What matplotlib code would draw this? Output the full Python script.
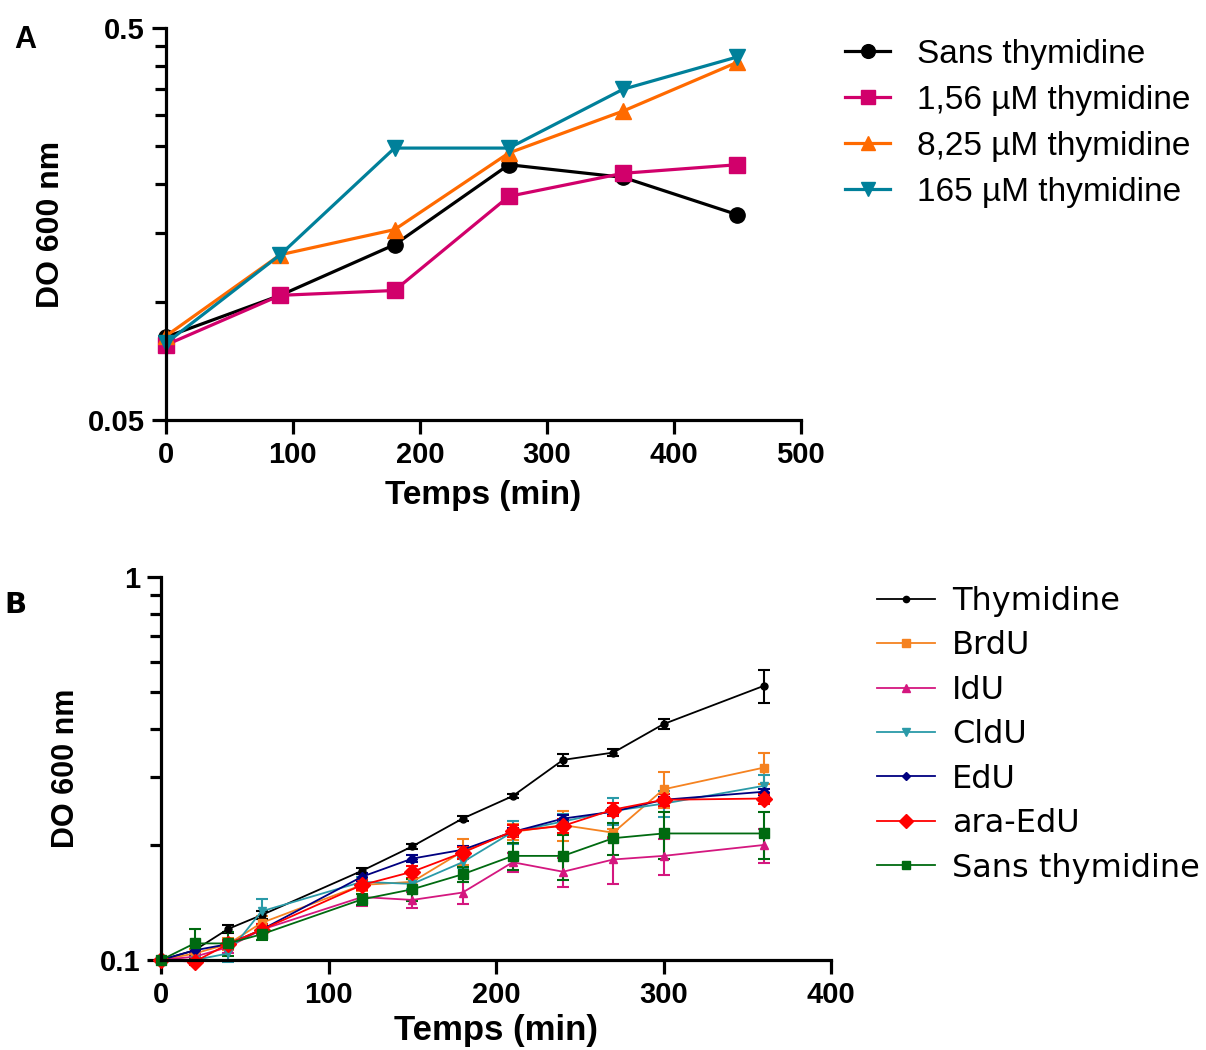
import matplotlib
matplotlib.use("Agg")
import matplotlib.pyplot as plt
from matplotlib.ticker import FixedLocator, NullFormatter, FixedFormatter

# ---- panel A data ----
time_a = [0, 90, 180, 270, 360, 450]
sans_a = [0.0814, 0.104, 0.140, 0.224, 0.208, 0.167]
thy156 = [0.0777, 0.104, 0.107, 0.186, 0.213, 0.224]
thy825 = [0.0819, 0.132, 0.153, 0.240, 0.307, 0.409]
thy165 = [0.0785, 0.132, 0.247, 0.247, 0.349, 0.422]
labels_a = ["Sans thymidine", "1,56 µM thymidine", "8,25 µM thymidine", "165 µM thymidine"]

# ---- panel B data ----
time_b = [0, 20, 40, 60, 120, 150, 180, 210, 240, 270, 300, 360]
thymidine = [0.100, 0.106, 0.1205, 0.131, 0.171, 0.198, 0.234, 0.268, 0.333, 0.348, 0.413, 0.520]
thymidine_err = [0, 0.003, 0.003, 0.003, 0.003, 0.003, 0.003, 0.003, 0.012, 0.008, 0.012, 0.05]
brdu = [0.100, 0.104, 0.110, 0.125, 0.157, 0.160, 0.192, 0.216, 0.225, 0.215, 0.279, 0.318]
brdu_err = [0, 0.003, 0.004, 0.005, 0.006, 0.008, 0.015, 0.010, 0.020, 0.005, 0.030, 0.030]
idu = [0.100, 0.102, 0.108, 0.120, 0.146, 0.1435, 0.150, 0.180, 0.170, 0.183, 0.187, 0.1997]
idu_err = [0, 0.002, 0.004, 0.004, 0.008, 0.007, 0.010, 0.010, 0.015, 0.025, 0.020, 0.020]
cldu = [0.100, 0.100, 0.104, 0.134, 0.160, 0.158, 0.180, 0.216, 0.230, 0.245, 0.256, 0.285]
cldu_err = [0, 0.002, 0.005, 0.010, 0.005, 0.005, 0.006, 0.015, 0.010, 0.020, 0.020, 0.020]
edu = [0.100, 0.106, 0.110, 0.120, 0.165, 0.184, 0.194, 0.216, 0.234, 0.244, 0.262, 0.275]
edu_err = [0, 0.003, 0.003, 0.003, 0.004, 0.004, 0.005, 0.005, 0.005, 0.005, 0.005, 0.005]
araedu = [0.100, 0.099, 0.110, 0.120, 0.157, 0.170, 0.1906, 0.217, 0.224, 0.247, 0.262, 0.264]
araedu_err = [0, 0.002, 0.003, 0.004, 0.005, 0.006, 0.007, 0.008, 0.010, 0.010, 0.010, 0.008]
sans_b = [0.100, 0.1105, 0.1105, 0.1167, 0.144, 0.153, 0.1674, 0.187, 0.187, 0.208, 0.214, 0.214]
sans_b_err = [0, 0.010, 0.008, 0.004, 0.005, 0.010, 0.008, 0.015, 0.025, 0.020, 0.030, 0.030]
labels_b = ["Thymidine", "BrdU", "IdU", "CldU", "EdU", "ara-EdU", "Sans thymidine"]

plt.rcParams['font.family'] = ['Liberation Sans', 'DejaVu Sans']

fig = plt.figure(figsize=(12.06, 10.5), dpi=100)


def style_axis(ax, lw):
    for s in ["top", "right"]:
        ax.spines[s].set_visible(False)
    for s in ["left", "bottom"]:
        ax.spines[s].set_linewidth(lw)
    ax.tick_params(which="both", direction="out", width=lw, length=8)
    ax.tick_params(which="major", length=10, pad=5)


# ---------------- panel A ----------------
axA = fig.add_axes([0.1376, 0.600, 0.5265, 0.3733])
cols_a = ["#000000", "#D1006B", "#FF6A00", "#00809A"]
marks_a = ["o", "s", "^", "v"]
for ys, c, m, lab in zip([sans_a, thy156, thy825, thy165], cols_a, marks_a, labels_a):
    axA.plot(time_a, ys, color=c, marker=m, lw=2.3, ms=11, label=lab, clip_on=False)
axA.set_yscale("log")
axA.set_xlim(0, 500)
axA.set_ylim(0.05, 0.5)
axA.yaxis.set_major_locator(FixedLocator([0.05, 0.5]))
axA.yaxis.set_major_formatter(FixedFormatter(["0.05", "0.5"]))
axA.yaxis.set_minor_locator(FixedLocator([0.1, 0.15, 0.2, 0.25, 0.3, 0.35, 0.4, 0.45]))
axA.yaxis.set_minor_formatter(NullFormatter())
axA.set_xticks([0, 100, 200, 300, 400, 500])
style_axis(axA, 2.3)
for t in axA.get_xticklabels() + axA.get_yticklabels():
    t.set_fontsize(21)
    t.set_fontweight("bold")
axA.set_xlabel("Temps (min)", fontsize=24, fontweight="bold", labelpad=8)
axA.set_ylabel("DO 600 nm", fontsize=23, fontweight="bold", labelpad=16)
axA.legend(loc="upper left", bbox_to_anchor=(0.7007, 0.963), bbox_transform=fig.transFigure,
           frameon=False, fontsize=24, handlelength=1.35, handletextpad=0.81,
           labelspacing=0.45, markerscale=0.9, borderpad=0, borderaxespad=0)
fig.text(0.012, 0.962, "A", fontsize=22, fontweight="bold", va="center")

# ---------------- panel B ----------------
axB = fig.add_axes([0.1335, 0.0857, 0.5556, 0.3648])
series_b = [thymidine, brdu, idu, cldu, edu, araedu, sans_b]
errs_b = [thymidine_err, brdu_err, idu_err, cldu_err, edu_err, araedu_err, sans_b_err]
cols_b = ["#000000", "#F58220", "#D4177F", "#2A9AA8", "#000080", "#FF0000", "#006A10"]
marks_b = ["o", "s", "^", "v", "D", "D", "s"]
sizes_b = [5, 6, 6, 6, 5, 8, 7]
for ys, es, c, m, s, lab in zip(series_b, errs_b, cols_b, marks_b, sizes_b, labels_b):
    axB.errorbar(time_b, ys, yerr=es, color=c, marker=m, ms=s, lw=1.3, elinewidth=1.5,
                 capsize=4, capthick=1.5, label=lab, clip_on=False)
axB.set_yscale("log")
axB.set_xlim(0, 400)
axB.set_ylim(0.1, 1)
axB.yaxis.set_major_locator(FixedLocator([0.1, 1]))
axB.yaxis.set_major_formatter(FixedFormatter(["0.1", "1"]))
axB.yaxis.set_minor_locator(FixedLocator([0.2, 0.3, 0.4, 0.5, 0.6, 0.7, 0.8, 0.9]))
axB.yaxis.set_minor_formatter(NullFormatter())
axB.set_xticks([0, 100, 200, 300, 400])
style_axis(axB, 2.3)
for t in axB.get_xticklabels() + axB.get_yticklabels():
    t.set_fontsize(21)
    t.set_fontweight("bold")
axB.set_xlabel("Temps (min)", fontsize=25, fontweight="bold", labelpad=4)
axB.set_ylabel("DO 600 nm", fontsize=22, fontweight="bold", labelpad=13)
handles, labs = axB.get_legend_handles_labels()
handles = [h[0] for h in handles]
axB.legend(handles, labs, loc="upper left", bbox_to_anchor=(0.7272, 0.4419),
           bbox_transform=fig.transFigure, frameon=False,
           prop={"family": "DejaVu Sans", "size": 23}, handlelength=1.82,
           handletextpad=0.53, labelspacing=0.42, markerscale=0.9,
           borderpad=0, borderaxespad=0)
fig.text(0.004, 0.424, "B", fontsize=21, fontweight="bold", va="center",
         family="DejaVu Sans")

fig.savefig("out.png", dpi=100)
